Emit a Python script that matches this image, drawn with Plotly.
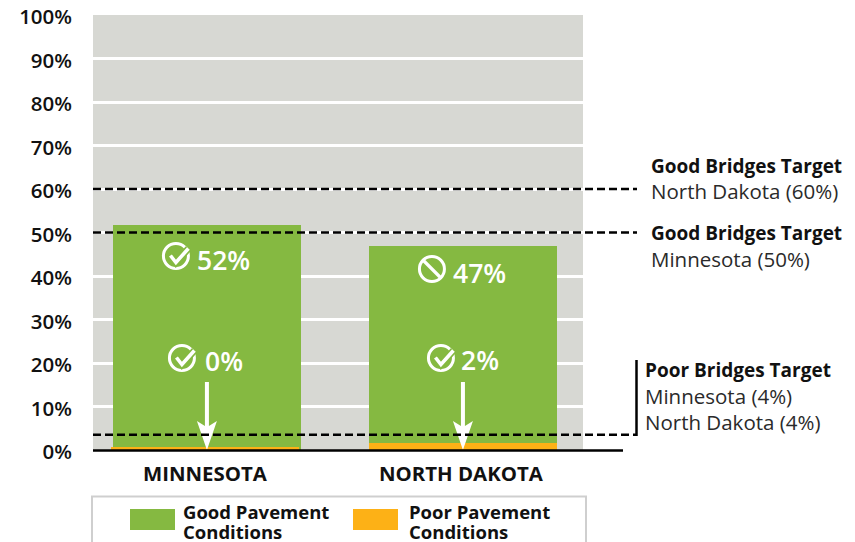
import plotly.graph_objects as go

states = ["MINNESOTA", "NORTH DAKOTA"]
good_values = [51.7, 46.9]
poor_values = [0.6, 1.6]
good_labels = ["52%", "47%"]
poor_labels = ["0%", "2%"]
good_icons = ["check", "ban"]
poor_icons = ["check", "check"]
tick_values = [0, 10, 20, 30, 40, 50, 60, 70, 80, 90, 100]
tick_labels = [f"{v}%" for v in tick_values]
targets = [60, 50, 3.5]
target_notes = [
    ("Good Bridges Target", "North Dakota (60%)"),
    ("Good Bridges Target", "Minnesota (50%)"),
    ("Poor Bridges Target", "Minnesota (4%)", "North Dakota (4%)"),
]
legend_names = ["Good Pavement<br>Conditions", "Poor Pavement<br>Conditions"]

GREEN, ORANGE, GRAY, INK = "#85B941", "#FDB116", "#D7D8D3", "#111111"
FONT = "Open Sans"
PAGE = 8  # page margin of the browser around the figure
W, H = 855 - PAGE, 542 - PAGE
L, R, T, B = 93, 583, 15, 450   # plot area in page pixels

def px(x):
    return (x - L) / (R - L)

def py(y):
    return (B - y) / (B - T)

def yv(y):
    return (B - y) / (B - T) * 100

fig = go.Figure()
fig.add_bar(x=[0, 1], y=good_values, marker_color=GREEN, marker_line_width=0,
            width=0.734, hoverinfo="skip", showlegend=False)
fig.add_bar(x=[0, 1], y=poor_values, marker_color=ORANGE, marker_line_width=0,
            width=0.734, offset=[-0.375, -0.367], hoverinfo="skip", showlegend=False)

shapes = []
annos = []

def text(x, y, s, size=18, weight=400, color=INK, anchor="left"):
    annos.append(dict(xref="paper", yref="paper", x=px(x - 3), y=py(y), text=s, showarrow=False,
                      xanchor=anchor, yanchor="middle", align="left",
                      font=dict(family=FONT, size=size, color=color, weight=weight)))

k = 12.5 * 0.5523
r = 12.5
CIRCLE = (f"M {-r} 0 C {-r} {k} {-k} {r} 0 {r} C {k} {r} {r} {k} {r} 0 "
          f"C {r} {-k} {k} {-r} 0 {-r} C {-k} {-r} {-r} {-k} {-r} 0 Z")
CHECK = "M -5.5 0.5 L 0 -6.5 L 12.5 7.5"
SLASH = "M -8.5 8.5 L 8.5 -8.5"
ARROW = "M -2 68 L 2 68 L 2 24 L 10 29 L 0 0 L -10 29 L -2 24 Z"

def icon(cat, yval, kind):
    base = dict(type="path", xsizemode="pixel", ysizemode="pixel", xref="x", yref="y",
                xanchor=cat, yanchor=yval, layer="above")
    shapes.append(dict(base, path=CIRCLE, line=dict(color="white", width=3)))
    if kind == "check":
        shapes.append(dict(base, path=CHECK, line=dict(color=GREEN, width=7)))
        shapes.append(dict(base, path=CHECK, line=dict(color="white", width=3.6)))
    else:
        shapes.append(dict(base, path=SLASH, line=dict(color="white", width=3.2)))

good_text_y, poor_text_y = [260, 273], [361, 360]
good_icon_y, poor_icon_y = [256, 269], [358, 358]
good_icon_dx, poor_icon_dx = [-31, -31], [-25, -22]
for i in range(2):
    annos.append(dict(x=i, y=yv(good_text_y[i]), xshift=17, text=good_labels[i], showarrow=False,
                      font=dict(family=FONT, size=26.5, color="white", weight=600)))
    annos.append(dict(x=i, y=yv(poor_text_y[i]), xshift=17, text=poor_labels[i], showarrow=False,
                      font=dict(family=FONT, size=26.5, color="white", weight=600)))
    icon(i + good_icon_dx[i] / 256, yv(good_icon_y[i]), good_icons[i])
    icon(i + poor_icon_dx[i] / 256, yv(poor_icon_y[i]), poor_icons[i])
    shapes.append(dict(type="path", path=ARROW, xsizemode="pixel", ysizemode="pixel",
                       xref="x", yref="y", xanchor=i, yanchor=0,
                       fillcolor="white", line=dict(width=0), layer="above"))

for t in targets:
    shapes.append(dict(type="line", xref="paper", yref="y", x0=0, x1=px(637), y0=t, y1=t,
                       line=dict(color="black", width=2.5, dash="8px,4px"), layer="above"))
shapes.append(dict(type="line", xref="paper", yref="paper", x0=px(636.5), x1=px(636.5),
                   y0=py(360), y1=py(436), line=dict(color="black", width=2.5)))
shapes.append(dict(type="line", xref="paper", yref="paper", x0=0, x1=px(623), y0=py(450.5), y1=py(450.5),
                   line=dict(color="black", width=2.4), layer="above"))

note_pos = [(652, [166, 191]), (652, [233, 259]), (646, [370, 396, 422])]
for note, (x, ys) in zip(target_notes, note_pos):
    for j, (s, y) in enumerate(zip(note, ys)):
        text(x, y, s, size=19 if j == 0 else 20.5, weight=700 if j == 0 else 400,
             color=INK if j == 0 else "#2A2A2A")

shapes.append(dict(type="rect", xref="paper", yref="paper", x0=px(92), x1=px(586), y0=py(560), y1=py(496.5),
                   line=dict(color="#CFCFCF", width=2), fillcolor="white"))
for name, col, x0, tx in zip(legend_names, [GREEN, ORANGE], [130, 353], [184, 410]):
    shapes.append(dict(type="rect", xref="paper", yref="paper", x0=px(x0), x1=px(x0 + 45), y0=py(530), y1=py(509),
                       fillcolor=col, line=dict(width=0)))
    a, b = name.split("<br>")
    text(tx, 511, a, size=18.5, weight=700)
    text(tx, 531, b, size=18.5, weight=700)

fig.update_layout(
    width=W, height=H, autosize=False,
    margin=dict(l=L - PAGE, r=W - (R - PAGE), t=T - PAGE, b=H - (B - PAGE), autoexpand=False),
    plot_bgcolor=GRAY, paper_bgcolor="white",
    barmode="overlay", showlegend=False, bargap=0,
    shapes=shapes, annotations=annos,
    font=dict(family=FONT, color=INK),
    xaxis=dict(range=[-0.445, 1.469], tickvals=[0, 1], ticktext=states, showgrid=False, zeroline=False,
               showline=False, ticks="", ticklabelstandoff=10, ticklabelshift=-2, automargin=False,
               tickfont=dict(family=FONT, size=20.4, color=INK, weight=700)),
    yaxis=dict(range=[0, 100], tickvals=tick_values, ticktext=tick_labels, showgrid=True,
               gridcolor="white", gridwidth=2.6, zeroline=False, showline=False,
               ticks="", ticklabelstandoff=20, automargin=False, ticklabeloverflow="allow",
               ticklabelshift=2,
               tickfont=dict(family=FONT, size=20.5, color=INK, weight=600)),
)
fig.write_html("out.html", config=dict(displayModeBar=False))
